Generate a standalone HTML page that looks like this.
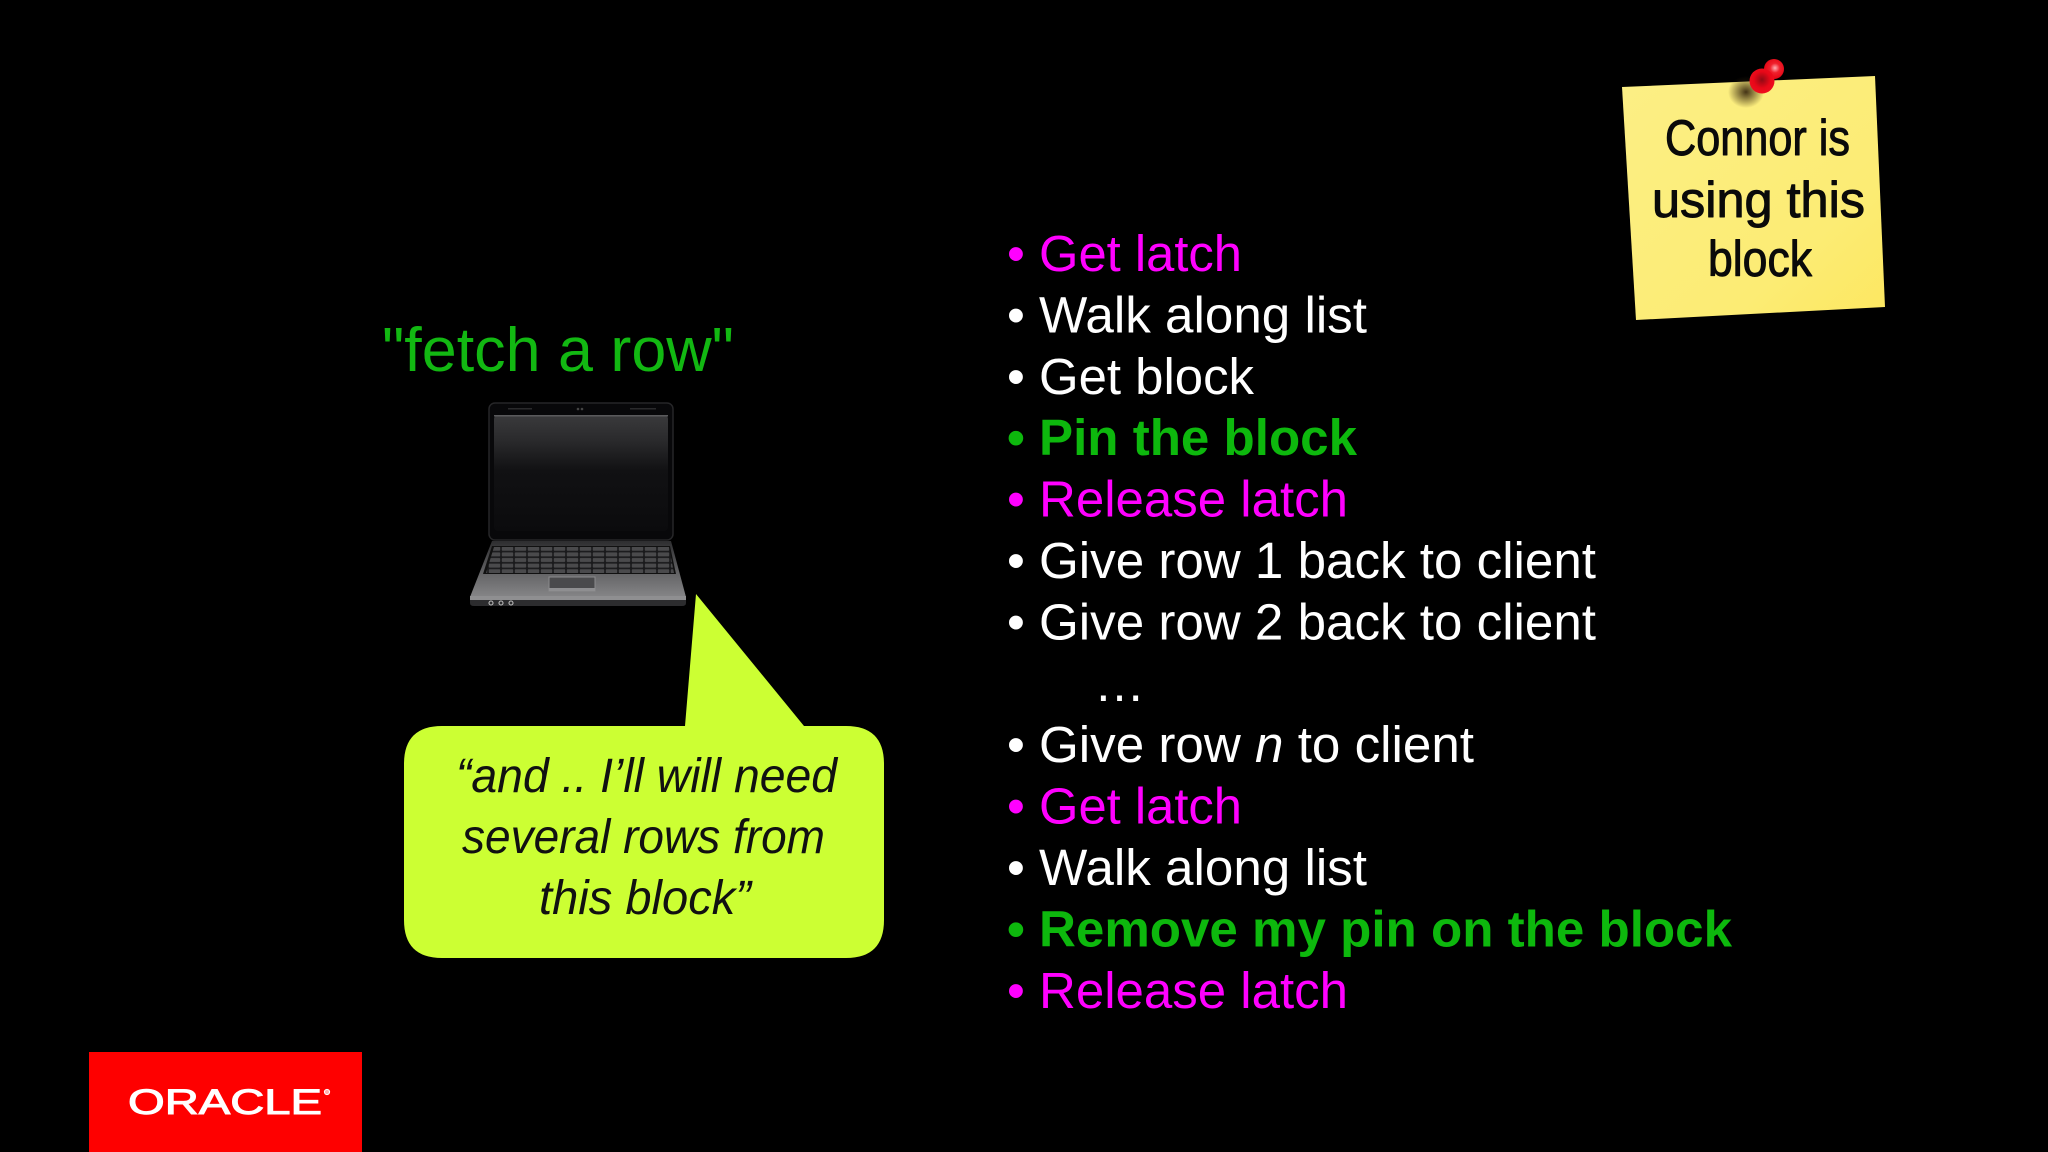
<!DOCTYPE html>
<html><head><meta charset="utf-8"><style>
html,body{margin:0;padding:0;background:#000;width:2048px;height:1152px;overflow:hidden}
svg{display:block}
.l{font-family:"Liberation Sans",sans-serif;font-size:51px}
.w{fill:#fff}.m{fill:#f0f}.g{fill:#0db80d;font-weight:bold}
.b{font-family:"Liberation Sans",sans-serif;font-style:italic;font-size:48px;fill:#111}
.h{font-family:"Liberation Sans",sans-serif;font-size:50px;fill:#0a0a0a;stroke:#0a0a0a;stroke-width:1;stroke-linejoin:round}
</style></head><body>
<svg width="2048" height="1152" viewBox="0 0 2048 1152" xmlns="http://www.w3.org/2000/svg">
<defs>
<linearGradient id="scr" x1="0" y1="0" x2="0" y2="1"><stop offset="0" stop-color="#3a3a3c"/><stop offset=".22" stop-color="#2a2a2c"/><stop offset=".48" stop-color="#111113"/><stop offset="1" stop-color="#0b0b0d"/></linearGradient>
<linearGradient id="deck" x1="0" y1="0" x2="0" y2="1"><stop offset="0" stop-color="#2e2e30"/><stop offset=".6" stop-color="#666668"/><stop offset="1" stop-color="#858587"/></linearGradient>
<linearGradient id="note" x1="0" y1="0" x2="1" y2="1"><stop offset="0" stop-color="#fcef85"/><stop offset=".7" stop-color="#fcec74"/><stop offset="1" stop-color="#fde760"/></linearGradient>
<radialGradient id="pin1" cx=".55" cy=".45" r=".6"><stop offset="0" stop-color="#ffb0b5"/><stop offset=".4" stop-color="#f0202c"/><stop offset="1" stop-color="#e0000f"/></radialGradient>
<radialGradient id="pin2" cx=".5" cy=".45" r=".6"><stop offset="0" stop-color="#900a14"/><stop offset=".55" stop-color="#e80818"/><stop offset="1" stop-color="#f01020"/></radialGradient>
<radialGradient id="shd"><stop offset="0" stop-color="#3a2a10" stop-opacity=".95"/><stop offset="1" stop-color="#3a2a10" stop-opacity="0"/></radialGradient>
<pattern id="keys" x="488" y="546" width="13" height="5.6" patternUnits="userSpaceOnUse"><rect width="13" height="5.6" fill="#1a1a1c"/><rect x=".8" y=".8" width="11.4" height="4" rx=".8" fill="#4a4a4c"/></pattern>
</defs>
<rect width="2048" height="1152" fill="#000"/>

<text x="382" y="371" font-family="'Liberation Sans',sans-serif" font-size="62" fill="#12b812" textLength="352" lengthAdjust="spacingAndGlyphs">"fetch a row"</text>

<!-- laptop -->
<rect x="489" y="403" width="184" height="137" rx="6" fill="#08080a" stroke="#262628" stroke-width="1.5"/>
<rect x="494" y="415" width="174" height="116" rx="4" fill="url(#scr)"/>
<rect x="494" y="415" width="174" height="1.5" fill="#5a5a5c"/>
<rect x="508" y="408" width="24" height="1.5" fill="#2a2a2c"/><rect x="630" y="408" width="26" height="1.5" fill="#2a2a2c"/>
<circle cx="578" cy="409" r="1.3" fill="#444"/><circle cx="582" cy="409" r="1.3" fill="#444"/>
<polygon points="492,541 671,541 686,597 470,597" fill="url(#deck)"/>
<polygon points="492,546 670,546 676,574 483,574" fill="#111"/>
<polygon points="494,547 669,547 674,573 486,573" fill="url(#keys)"/>
<rect x="549" y="577" width="46" height="14" fill="#4a4a4c" stroke="#8a8a8c" stroke-width="1"/>
<rect x="549" y="588" width="46" height="3" fill="#8f8f91"/>
<rect x="470" y="596" width="216" height="4" fill="#8f8f91"/>
<path d="M470 600H686V603Q686 606 682 606H474Q470 606 470 603Z" fill="#2c2c2e"/>
<circle cx="491" cy="603" r="2" fill="none" stroke="#bbb" stroke-width="1.1"/>
<circle cx="501" cy="603" r="2" fill="none" stroke="#bbb" stroke-width="1.1"/>
<circle cx="511" cy="603" r="2" fill="none" stroke="#bbb" stroke-width="1.1"/>

<!-- bubble -->
<path d="M442 726H685L696 594L804 726H846Q884 726 884 764V920Q884 958 846 958H442Q404 958 404 920V764Q404 726 442 726Z" fill="#ccff33"/>
<text class="b" x="456" y="792" textLength="381" lengthAdjust="spacingAndGlyphs">“and .. I’ll will need</text>
<text class="b" x="462" y="853" textLength="363" lengthAdjust="spacingAndGlyphs">several rows from</text>
<text class="b" x="539" y="914" textLength="212" lengthAdjust="spacingAndGlyphs">this block”</text>

<!-- list -->
<g class="l">
<text x="1007" y="271" class="l m">•</text><text x="1039" y="271" class="l m" textLength="203" lengthAdjust="spacingAndGlyphs">Get latch</text>
<text x="1007" y="332.4" class="l w">•</text><text x="1039" y="332.4" class="l w" textLength="328" lengthAdjust="spacingAndGlyphs">Walk along list</text>
<text x="1007" y="393.8" class="l w">•</text><text x="1039" y="393.8" class="l w" textLength="215" lengthAdjust="spacingAndGlyphs">Get block</text>
<text x="1007" y="455.2" class="l g">•</text><text x="1039" y="455.2" class="l g" textLength="318" lengthAdjust="spacingAndGlyphs">Pin the block</text>
<text x="1007" y="516.6" class="l m">•</text><text x="1039" y="516.6" class="l m" textLength="309" lengthAdjust="spacingAndGlyphs">Release latch</text>
<text x="1007" y="578" class="l w">•</text><text x="1039" y="578" class="l w" textLength="557" lengthAdjust="spacingAndGlyphs">Give row 1 back to client</text>
<text x="1007" y="639.4" class="l w">•</text><text x="1039" y="639.4" class="l w" textLength="557" lengthAdjust="spacingAndGlyphs">Give row 2 back to client</text>
<text x="1094" y="701" class="l w" textLength="48" lengthAdjust="spacing">…</text>
<text x="1007" y="762.2" class="l w">•</text><text x="1039" y="762.2" class="l w" textLength="435" lengthAdjust="spacingAndGlyphs">Give row <tspan font-style="italic">n</tspan> to client</text>
<text x="1007" y="823.6" class="l m">•</text><text x="1039" y="823.6" class="l m" textLength="203" lengthAdjust="spacingAndGlyphs">Get latch</text>
<text x="1007" y="885" class="l w">•</text><text x="1039" y="885" class="l w" textLength="328" lengthAdjust="spacingAndGlyphs">Walk along list</text>
<text x="1007" y="946.4" class="l g">•</text><text x="1039" y="946.4" class="l g" textLength="693" lengthAdjust="spacingAndGlyphs">Remove my pin on the block</text>
<text x="1007" y="1007.8" class="l m">•</text><text x="1039" y="1007.8" class="l m" textLength="309" lengthAdjust="spacingAndGlyphs">Release latch</text>
</g>

<!-- sticky note -->
<polygon points="1622,87 1875,76 1885,307 1636,320" fill="url(#note)"/>
<ellipse cx="1746" cy="92" rx="18" ry="16" fill="url(#shd)"/>
<circle cx="1774" cy="69" r="10" fill="url(#pin1)"/>
<circle cx="1762" cy="81" r="12.5" fill="url(#pin2)"/>
<text class="h" x="1665" y="155" textLength="185" lengthAdjust="spacingAndGlyphs">Connor is</text>
<text class="h" x="1652" y="217" textLength="213" lengthAdjust="spacingAndGlyphs">using this</text>
<text class="h" x="1708" y="276" textLength="104" lengthAdjust="spacingAndGlyphs">block</text>

<!-- oracle -->
<rect x="89" y="1052" width="273" height="100" fill="#fe0000"/>
<text x="128" y="1114" font-family="'Liberation Sans',sans-serif" font-size="35" fill="#fff" stroke="#fff" stroke-width="1" textLength="194" lengthAdjust="spacingAndGlyphs">ORACLE</text>
<circle cx="327" cy="1092" r="2.6" fill="#ffb0b0" stroke="#fff" stroke-width="1"/>
</svg>
</body></html>
